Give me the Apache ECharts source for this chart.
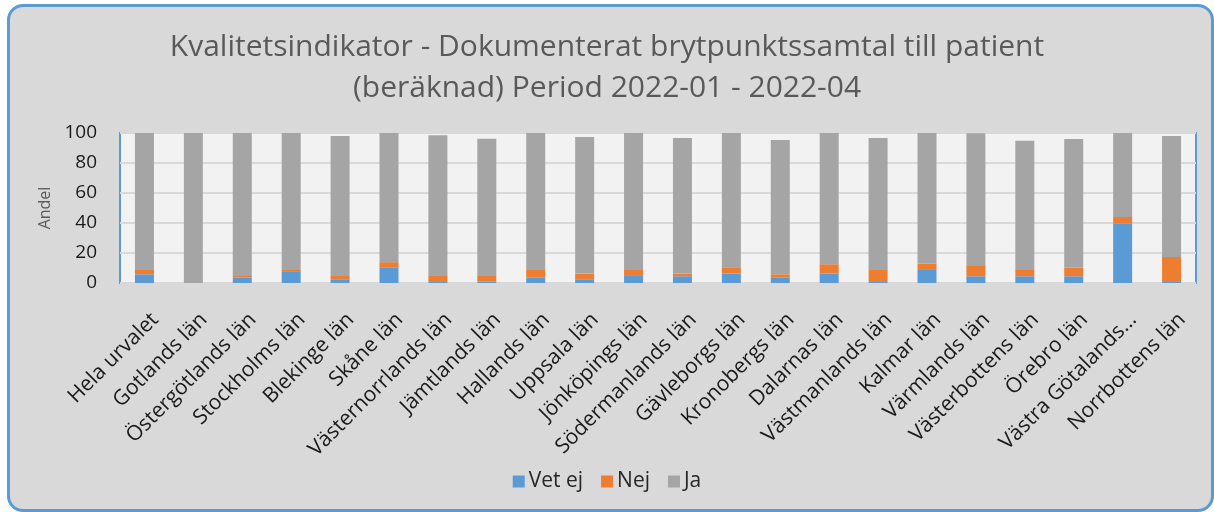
<!DOCTYPE html>
<html>
<head>
<meta charset="utf-8">
<script src="https://cdn.jsdelivr.net/npm/echarts@6/dist/echarts.min.js"></script>
<style>
html,body{margin:0;padding:0;background:#ffffff;}
#wrap{position:absolute;left:7px;top:4px;width:1201px;height:502px;border:3px solid #5b9bd5;border-radius:16px;background:#d9d9d9;overflow:hidden;}
#chart{position:absolute;left:-10px;top:-7px;width:1214px;height:512px;}
</style>
</head>
<body>
<div id="wrap"><div id="chart"></div></div>
<script>
const categories = ["Hela urvalet","Gotlands län","Östergötlands län","Stockholms län","Blekinge län","Skåne län","Västernorrlands län","Jämtlands län","Hallands län","Uppsala län","Jönköpings län","Södermanlands län","Gävleborgs län","Kronobergs län","Dalarnas län","Västmanlands län","Kalmar län","Värmlands län","Västerbottens län","Örebro län","Västra Götalands...","Norrbottens län"];
const vetEj = [5.8, 0, 3.6, 7.4, 2.5, 10.5, 0.7, 1.1, 3.8, 2.5, 4.7, 4.5, 6.3, 3.8, 6.3, 0.7, 8.7, 4.5, 4.5, 4.5, 39.5, 0.7];
const nej   = [3.4, 0, 1.1, 1.3, 2.2, 3.4, 4.5, 3.6, 5.4, 3.8, 4.5, 1.8, 4.2, 2.0, 6.2, 8.5, 4.3, 7.4, 4.2, 5.6, 4.5, 16.7];
const ja    = [90.8, 100, 95.3, 91.3, 93.3, 86.1, 93.3, 91.5, 90.8, 91.1, 90.8, 90.4, 89.5, 89.6, 87.5, 87.5, 87.0, 88.0, 86.2, 85.9, 56.0, 80.6];
const yTicks = [0, 20, 40, 60, 80, 100];
const titleLines = ["Kvalitetsindikator - Dokumenterat brytpunktssamtal till patient", "(beräknad) Period 2022-01 - 2022-04"];

const FONT = "Open Sans";
const chart = echarts.init(document.getElementById('chart'));
chart.setOption({
  animation: false,
  textStyle: { fontFamily: FONT },
  title: {
    text: titleLines.join('\n'),
    left: 'center', top: 22,
    textStyle: { fontFamily: FONT, fontSize: 30, fontWeight: 'normal', color: '#595959', lineHeight: 41 }
  },
  legend: {
    top: 466, left: 'center',
    itemWidth: 12, itemHeight: 12, itemGap: 18,
    icon: 'rect',
    textStyle: { fontFamily: FONT, fontSize: 21, color: '#262626', padding: [0,0,0,-1] },
    data: ['Vet ej', 'Nej', 'Ja']
  },
  grid: {
    left: 120, right: 18, top: 133, bottom: 229,
    show: true, backgroundColor: '#f2f2f2', borderColor: '#5b9bd5', borderWidth: 2
  },
  xAxis: {
    type: 'category', data: categories,
    axisTick: { show: false },
    axisLine: { show: false },
    axisLabel: { interval: 0, rotate: 45, fontFamily: FONT, fontSize: 21, color: '#1a1a1a', margin: 44, padding: [0, -15, 0, 0] }
  },
  yAxis: {
    type: 'value', min: 0, max: 100, interval: 20,
    name: 'Andel', nameLocation: 'middle', nameGap: 62, nameRotate: 90,
    nameTextStyle: { fontFamily: FONT, fontSize: 16, color: '#595959' },
    axisLine: { show: false }, axisTick: { show: false },
    axisLabel: { fontFamily: FONT, fontSize: 19, color: '#1a1a1a', margin: 23,
      formatter: v => yTicks.includes(v) ? String(v) : '' },
    splitLine: { lineStyle: { color: '#d9d9d9', width: 2 } }
  },
  series: [
    { name: 'Vet ej', type: 'bar', stack: 'a', data: vetEj, barWidth: 19, itemStyle: { color: '#5b9bd5' } },
    { name: 'Nej', type: 'bar', stack: 'a', data: nej, barWidth: 19, itemStyle: { color: '#ed7d31' } },
    { name: 'Ja', type: 'bar', stack: 'a', data: ja, barWidth: 19, itemStyle: { color: '#a5a5a5' } }
  ]
});
</script>
</body>
</html>
